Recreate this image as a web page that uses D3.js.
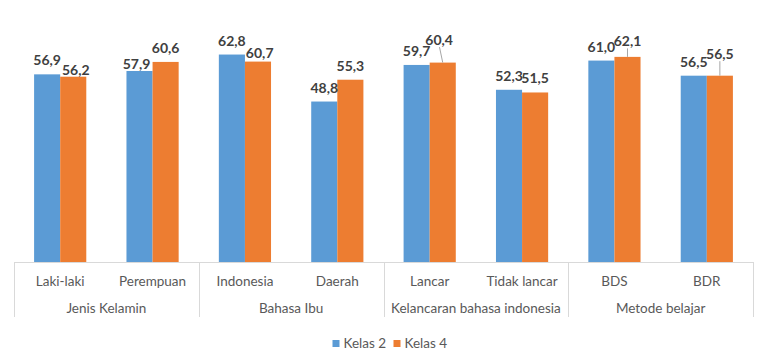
<!DOCTYPE html>
<html><head><meta charset="utf-8">
<script src="https://cdn.jsdelivr.net/npm/d3@7"></script>
<style>
html,body{margin:0;padding:0;background:#fff;}
svg{display:block;font-family:Lato,"Liberation Sans",sans-serif;}
</style></head>
<body><svg id="c" width="768" height="355"></svg>
<script>
const categories = ["Laki-laki","Perempuan","Indonesia","Daerah","Lancar","Tidak lancar","BDS","BDR"];
const groups = ["Jenis Kelamin","Bahasa Ibu","Kelancaran bahasa indonesia","Metode belajar"];
const seriesNames = ["Kelas 2","Kelas 4"];
const kelas2 = [56.9,57.9,62.8,48.8,59.7,52.3,61.0,56.5];
const kelas4 = [56.2,60.6,60.7,55.3,60.4,51.5,62.1,56.5];
const colors = ["#5B9BD5","#ED7D31"];
// manual data-label nudges [dx, dy] (as in the source chart)
const labelNudge2 = [[0,0],[-3,7.3],[0,0],[0,0],[0,0],[0,0],[0,0],[0,0]];
const labelNudge4 = [[2.5,7.3],[0,0],[1.7,5.7],[0,0],[-3.6,-9],[0,0],[0,-2],[0,-8]];

const series = [kelas2, kelas4];
const nudges = [labelNudge2, labelNudge4];
const svg = d3.select("#c");
const left = 14, right = 753, axisY = 262;
const x0 = d3.scaleBand().domain(categories).range([left,right]).padding(0);
const x1 = d3.scaleBand().domain(seriesNames).range([0,x0.bandwidth()]).paddingInner(0).paddingOuter(0.77);
const y = d3.scaleLinear().domain([1,70]).range([axisY, axisY - 69*3.357]);
const fmt = v => d3.format(".1f")(v).replace(".", ",");

// bars
seriesNames.forEach((s,si)=>{
  svg.append("g").selectAll("rect").data(series[si]).join("rect")
    .attr("x",(d,i)=>x0(categories[i])+x1(s))
    .attr("y",d=>y(d))
    .attr("width",x1.bandwidth())
    .attr("height",d=>y(1)-y(d))
    .attr("fill",colors[si]);
});

// axis lines
const ax = svg.append("g").attr("stroke","#d9d9d9").attr("stroke-width",1);
ax.append("line").attr("x1",left).attr("x2",right).attr("y1",axisY+0.5).attr("y2",axisY+0.5);
const sepIdx = [0,2,4,6,8];
sepIdx.forEach(k=>{
  const xx = k<categories.length ? x0(categories[k]) : right;
  ax.append("line").attr("x1",Math.round(xx)+0.5).attr("x2",Math.round(xx)+0.5).attr("y1",axisY).attr("y2",317);
});

// category labels
svg.append("g").selectAll("text").data(categories).join("text")
  .attr("x",d=>x0(d)+x0.bandwidth()/2).attr("y",285.5)
  .attr("text-anchor","middle").attr("font-size",13.5).attr("fill","#595959").text(d=>d);
// group labels
svg.append("g").selectAll("text").data(groups).join("text")
  .attr("x",(d,i)=>x0(categories[2*i]) + x0.bandwidth())
  .attr("y",312.5).attr("text-anchor","middle").attr("font-size",13.5).attr("fill","#595959").text(d=>d);

// data labels + leader lines
seriesNames.forEach((s,si)=>{
  const g = svg.append("g");
  series[si].forEach((v,i)=>{
    const cx = x0(categories[i])+x1(s)+x1.bandwidth()/2;
    const [dx,dy] = nudges[si][i];
    const by = y(v) - 9 + dy;
    if (dy < -1) {
      g.append("line").attr("x1",cx+dx*0.9).attr("y1",by+2.5).attr("x2",cx).attr("y2",y(v))
        .attr("stroke","#a6a6a6").attr("stroke-width",1);
    }
    g.append("text").attr("x",cx+dx).attr("y",by).attr("text-anchor","middle")
      .attr("font-size",14).attr("font-weight","bold").attr("fill","#404040").text(fmt(v));
  });
});

// legend
const leg = svg.append("g");
const legX = [332.5, 393.5];
seriesNames.forEach((s,si)=>{
  leg.append("rect").attr("x",legX[si]).attr("y",340).attr("width",7).attr("height",7).attr("fill",colors[si]);
  leg.append("text").attr("x",legX[si]+11).attr("y",347.5).attr("font-size",13.5).attr("fill","#595959").text(s);
});
</script></body></html>
